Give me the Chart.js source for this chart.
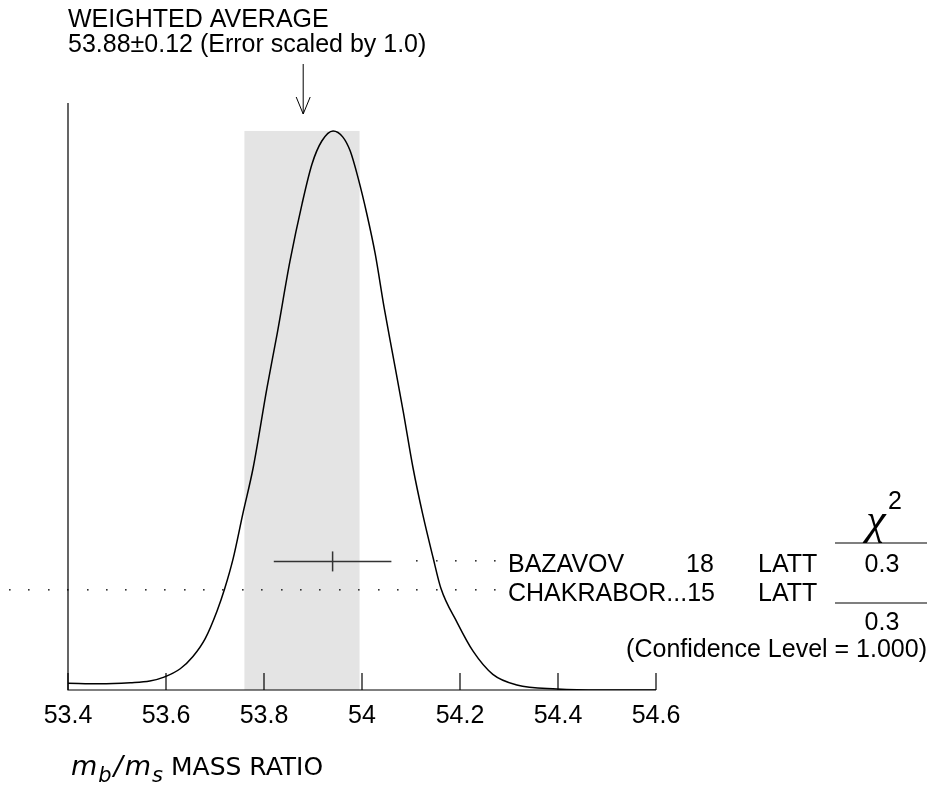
<!DOCTYPE html>
<html>
<head>
<meta charset="utf-8">
<script src="https://cdn.jsdelivr.net/npm/chart.js@4.4.1/dist/chart.umd.min.js"></script>
<style>
  html, body { margin: 0; padding: 0; background: #fff; }
  #wrap { width: 931px; height: 786px; }
</style>
</head>
<body>
<div id="wrap"><canvas id="ideogram" width="931" height="786"></canvas></div>
<script>
// ideogram curve (x = mass ratio, y = relative height)
const curveX = [53.400, 53.465, 53.527, 53.567, 53.596, 53.629, 53.655, 53.680, 53.704, 53.720,
  53.737, 53.757, 53.778, 53.806, 53.827, 53.853, 53.878, 53.898, 53.918, 53.941,
  53.961, 53.976, 53.992, 54.010, 54.027, 54.045, 54.063, 54.084, 54.104, 54.124,
  54.145, 54.161, 54.194, 54.227, 54.267, 54.316, 54.398, 54.486, 54.600];
const curveY = [0.012, 0.011, 0.013, 0.016, 0.023, 0.038, 0.060, 0.092, 0.141, 0.182,
  0.235, 0.316, 0.398, 0.540, 0.638, 0.767, 0.871, 0.941, 0.982, 1.000,
  0.989, 0.964, 0.916, 0.851, 0.780, 0.685, 0.599, 0.499, 0.398, 0.314,
  0.237, 0.182, 0.121, 0.069, 0.028, 0.009, 0.002, 0.000, 0.000];

// measurements
const measNames = ['BAZAVOV', 'CHAKRABOR...'];
const measYears = ['18', '15'];
const measTech = ['LATT', 'LATT'];
const measChi2 = ['0.3', ''];
const measValues = [53.94, null];   // null = off the plotted range
const measErrors = [0.12, null];
const measRows = [0.230, 0.178];

// weighted average
const avgValue = 53.88;
const avgError = 0.12;
const avgBand = [53.76, 53.995];
const avgTop = 1.0;
const chi2Total = '0.3';
const confLevel = '1.000';
const scaleFactor = '1.0';

const xTicks = ['53.4', '53.6', '53.8', '54', '54.2', '54.4', '54.6'];
const xMin = 53.4, xMax = 54.6;
const yMin = 0, yMax = 1.05;

const SANS = '"Liberation Sans", Arial, Helvetica, sans-serif';
const FONT = '25px ' + SANS;

const ideogramPlugin = {
  id: 'ideogram',
  beforeDatasetsDraw(chart) {
    const { ctx, chartArea: a, scales: { x, y } } = chart;
    ctx.save();
    // average band
    ctx.fillStyle = '#e4e4e4';
    const bx0 = x.getPixelForValue(avgBand[0]);
    const bx1 = x.getPixelForValue(avgBand[1]);
    const by = y.getPixelForValue(avgTop);
    ctx.fillRect(bx0, by, bx1 - bx0, a.bottom - by);

    // dotted leaders
    ctx.fillStyle = '#333';
    const labelX = 508;
    measRows.forEach((r, i) => {
      const py = Math.round(y.getPixelForValue(r));
      let from = 0;
      if (measValues[i] != null) from = x.getPixelForValue(measValues[i] + measErrors[i]) + 18;
      for (let px = 10; px < labelX - 6; px += 19.4) {
        if (px < from) continue;
        ctx.fillRect(Math.round(px) - 1, py - 1, 1.6, 1.6);
      }
    });
    ctx.restore();
  },
  afterDraw(chart) {
    const { ctx, chartArea: a, scales: { x, y } } = chart;
    ctx.save();
    ctx.strokeStyle = '#000';
    ctx.lineWidth = 1.2;

    // axes
    ctx.beginPath();
    ctx.moveTo(a.left, a.top);
    ctx.lineTo(a.left, a.bottom);
    ctx.lineTo(a.right, a.bottom);
    ctx.stroke();

    // inward ticks + labels
    ctx.fillStyle = '#000';
    ctx.font = FONT;
    ctx.textAlign = 'center';
    ctx.textBaseline = 'alphabetic';
    x.ticks.forEach(t => {
      const px = x.getPixelForValue(t.value);
      ctx.beginPath();
      ctx.moveTo(px, a.bottom);
      ctx.lineTo(px, a.bottom - 17);
      ctx.stroke();
      ctx.fillText(xTicks.find(s => parseFloat(s) === t.value) || String(t.value), px, a.bottom + 33);
    });

    // arrow to the average
    const ax = x.getPixelForValue(avgValue);
    ctx.lineWidth = 1;
    ctx.beginPath();
    ctx.moveTo(ax, 64);
    ctx.lineTo(ax, 114);
    ctx.moveTo(ax - 7, 97);
    ctx.lineTo(ax, 114);
    ctx.lineTo(ax + 7, 97);
    ctx.stroke();

    // header
    ctx.textAlign = 'left';
    ctx.fillText('WEIGHTED AVERAGE', 68, 27);
    ctx.fillText(avgValue.toFixed(2) + '\u00b1' + avgError.toFixed(2) +
      ' (Error scaled by ' + scaleFactor + ')', 68, 52);

    // measurement labels
    measRows.forEach((r, i) => {
      const base = y.getPixelForValue(r) + 11;
      ctx.textAlign = 'left';
      ctx.fillText(measNames[i], 508, base);
      const nameEnd = 508 + ctx.measureText(measNames[i]).width;
      ctx.fillText(measYears[i], Math.max(686, nameEnd), base);
      ctx.fillText(measTech[i], 758, base);
      ctx.textAlign = 'center';
      if (measChi2[i]) ctx.fillText(measChi2[i], 882, base);
    });

    // chi2 column
    ctx.textAlign = 'center';
    ctx.font = 'italic 44px "Liberation Serif", serif';
    ctx.fillText('\u03c7', 876, 534);
    ctx.font = FONT;
    ctx.textAlign = 'left';
    ctx.fillText('2', 888, 509);
    ctx.lineWidth = 1.2;
    ctx.beginPath();
    ctx.moveTo(835, 543); ctx.lineTo(927, 543);
    ctx.moveTo(835, 603); ctx.lineTo(927, 603);
    ctx.stroke();
    ctx.textAlign = 'center';
    ctx.fillText(chi2Total, 882, 630);
    ctx.textAlign = 'right';
    ctx.fillText('(Confidence Level = ' + confLevel + ')', 927, 657);

    // x-axis title: m_b/m_s MASS RATIO
    let tx = 71;
    const tb = 775;
    const part = (txt, font, dy, gap) => {
      ctx.font = font;
      ctx.textAlign = 'left';
      ctx.fillText(txt, tx, tb + dy);
      tx += ctx.measureText(txt).width + (gap || 0);
    };
    const big = 'italic 27px "DejaVu Sans", sans-serif';
    const small = 'italic 21px "DejaVu Sans", sans-serif';
    part('m', big, 0, 1);
    part('b', small, 7, 2);
    part('/', big, 0, 2);
    part('m', big, 0, 1);
    part('s', small, 7, 0);
    tx += 8;
    part('MASS RATIO', '25px "DejaVu Sans", sans-serif', 0);
    ctx.restore();
  }
};

const errPoints = [];
const centerPoints = [];
measValues.forEach((v, i) => {
  if (v == null) return;
  errPoints.push({ x: v - measErrors[i], y: measRows[i] }, { x: v + measErrors[i], y: measRows[i] });
  centerPoints.push({ x: v, y: measRows[i] });
});

new Chart(document.getElementById('ideogram'), {
  type: 'scatter',
  data: {
    datasets: [
      {
        data: curveX.map((v, i) => ({ x: v, y: curveY[i] })),
        showLine: true,
        borderColor: '#000',
        borderWidth: 1.5,
        pointRadius: 0,
        cubicInterpolationMode: 'monotone'
      },
      {
        data: errPoints,
        showLine: true,
        borderColor: '#333',
        borderWidth: 1.5,
        pointRadius: 0
      },
      {
        data: centerPoints,
        showLine: false,
        pointStyle: 'line',
        rotation: 90,
        pointRadius: 10,
        borderColor: '#333',
        borderWidth: 1.5
      }
    ]
  },
  options: {
    responsive: false,
    animation: false,
    layout: { padding: { left: 68, right: 275, top: 103, bottom: 96 } },
    plugins: { legend: { display: false }, tooltip: { enabled: false } },
    scales: {
      x: {
        type: 'linear', display: false, min: xMin, max: xMax,
        afterBuildTicks: s => { s.ticks = xTicks.map(t => ({ value: parseFloat(t) })); }
      },
      y: { type: 'linear', display: false, min: yMin, max: yMax }
    }
  },
  plugins: [ideogramPlugin]
});
</script>
</body>
</html>
